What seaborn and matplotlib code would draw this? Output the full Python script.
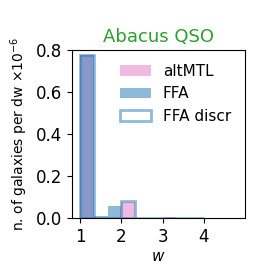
import numpy as np
import pandas as pd
import matplotlib
matplotlib.use('Agg')
import matplotlib.pyplot as plt
import seaborn as sns

# bin edges in w (width 1/3)
edges = [1.0, 4/3, 5/3, 2.0, 7/3, 8/3, 3.0, 10/3, 11/3, 4.0]
centers = [(a + b) / 2 for a, b in zip(edges[:-1], edges[1:])]

# heights per bin, x1e-6 galaxies per dw
altmtl = [0.775, 0.0, 0.0, 0.075, 0.0, 0.0, 0.005, 0.0, 0.0]
ffa = [0.775, 0.012, 0.057, 0.0, 0.0, 0.0, 0.0, 0.0, 0.0]
ffa_discr = [0.775, 0.0, 0.0, 0.082, 0.0, 0.0, 0.0, 0.0, 0.0]

df = pd.DataFrame({'w': centers, 'altMTL': altmtl, 'FFA': ffa, 'FFA discr': ffa_discr})

fig = plt.figure(figsize=(2.66, 2.66), dpi=100)
ax = fig.add_axes([0.27, 0.18, 0.651, 0.632])

sns.histplot(data=df, x='w', weights='altMTL', bins=edges, color='tab:pink',
             alpha=0.5, edgecolor='none', label='altMTL', ax=ax)
sns.histplot(data=df, x='w', weights='FFA', bins=edges, color='tab:blue',
             alpha=0.5, edgecolor='none', label='FFA', ax=ax)
sns.histplot(data=df, x='w', weights='FFA discr', bins=edges, fill=False,
             edgecolor='tab:blue', alpha=0.5, linewidth=2, label='FFA discr', ax=ax)

ax.set_xlim(0.8, 5.0)
ax.set_ylim(0, 0.8)
ax.set_xticks([1, 2, 3, 4])
ax.set_yticks([0.0, 0.2, 0.4, 0.6, 0.8])
ax.tick_params(labelsize=12)
ax.set_xlabel('$w$', fontsize=11, labelpad=2)
ax.set_ylabel(r'n. of galaxies per dw $\times 10^{-6}$', fontsize=10)
ax.set_title('Abacus QSO', color='tab:green', fontsize=13)
ax.legend(frameon=False, fontsize=11, loc='upper right')

fig.savefig('out.png', dpi=100)
